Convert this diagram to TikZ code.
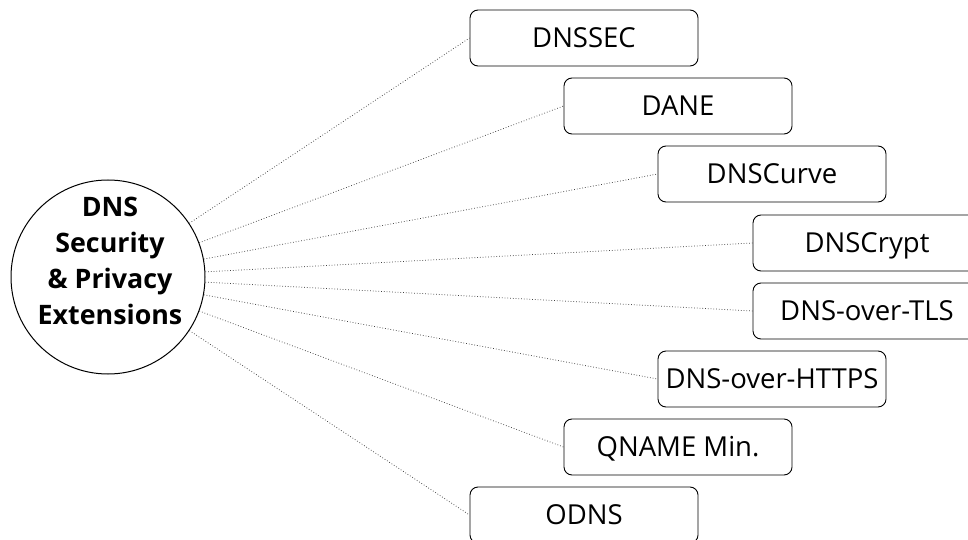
\documentclass[tikz,border=0pt]{standalone}
\usepackage{fontspec}
\setmainfont{Open Sans}
\usepackage{tikz}

\tikzset{
    extbox/.style={draw=black, line width=0.9pt, rounded corners=8pt,
        minimum width=228pt, minimum height=56pt, inner sep=0pt,
        text height=19.5pt, text depth=0pt,
        font=\fontsize{27.5}{32}\selectfont},
    link/.style={dotted, draw=black!75, line width=0.75pt}
}

\begin{document}
\begin{tikzpicture}[x=1pt,y=-1pt]
    \useasboundingbox (0,0) rectangle (968,540);

    \node[circle, draw=black, line width=1pt, minimum size=194pt] (core) at (108,277) {};
    \node[align=center, font=\bfseries\fontsize{26.8}{36}\selectfont] (coretext) at (110,261)
        {DNS\\Security\\\& Privacy\\Extensions};

    \node[extbox] (dnssec)   at (584,38)  {DNSSEC};
    \node[extbox] (dane)     at (678,106) {DANE};
    \node[extbox] (dnscurve) at (772,174) {DNSCurve};
    \node[extbox] (dnscrypt) at (867,243) {DNSCrypt};
    \node[extbox] (dot)      at (867,311) {DNS-over-TLS};
    \node[extbox] (doh)      at (772,379) {DNS-over-HTTPS};
    \node[extbox] (qname)    at (678,447) {QNAME Min.};
    \node[extbox] (odns)     at (584,515) {ODNS};

    \draw[link] (core) -- (dnssec.west);
    \draw[link] (core) -- (dane.west);
    \draw[link] (core) -- (dnscurve.west);
    \draw[link] (core) -- (dnscrypt.west);
    \draw[link] (core) -- (dot.west);
    \draw[link] (core) -- (doh.west);
    \draw[link] (core) -- (qname.west);
    \draw[link] (core) -- (odns.west);
\end{tikzpicture}
\end{document}
